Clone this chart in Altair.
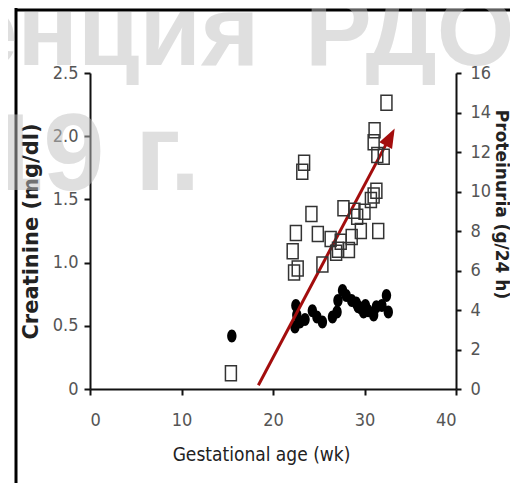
import altair as alt
import pandas as pd

# Creatinine (filled circles, left axis)
week_cr = [15.5, 22.4, 22.5, 22.6, 22.95, 23.5, 24.3, 24.8, 25.4, 26.5, 27.0, 27.1, 27.6,
           28.0, 28.6, 29.1, 29.3, 29.6, 29.9, 30.1, 30.4, 31.0, 31.3, 31.9, 32.4, 32.6]
creat = [0.42, 0.49, 0.66, 0.585, 0.53, 0.55, 0.62, 0.57, 0.53, 0.57, 0.61, 0.70, 0.78,
         0.74, 0.70, 0.68, 0.65, 0.64, 0.61, 0.66, 0.62, 0.585, 0.65, 0.66, 0.74, 0.61]

# Proteinuria (open squares, right axis)
week_pr = [15.4, 22.15, 22.3, 22.7, 22.5, 23.2, 23.4, 24.2, 24.9, 25.4, 26.3, 26.9, 27.1, 27.4,
           27.7, 28.3, 28.6, 28.9, 29.2, 29.6, 30.0, 30.7, 31.0, 31.3, 31.5, 31.0, 31.1, 31.4,
           32.1, 32.4]
prot = [0.8, 6.97, 5.9, 6.1, 7.9, 11.0, 11.46, 8.86, 7.85, 6.3, 7.6, 6.9, 7.05, 7.46,
        9.15, 7.04, 7.7, 9.03, 8.72, 8.0, 8.98, 9.57, 9.8, 10.04, 8.0, 12.5, 13.1, 11.85,
        11.76, 14.5]

# Red trend arrow (in gestational-week / creatinine units)
arrow_week = [18.4, 32.5]
arrow_cr = [0.03, 1.955]
head_week = [33.3]
head_cr = [2.06]

x_ticks = [0, 10, 20, 30, 40]
cr_ticks = [0, 0.5, 1.0, 1.5, 2.0, 2.5]
pr_ticks = [0, 2, 4, 6, 8, 10, 12, 14, 16]

wm_line1a = ["енция"]
wm_line1b = ["РДО"]
wm_line2 = ["19 г."]

NARROW = "DejaVu Sans Condensed, Liberation Sans Narrow, sans-serif"
RED = "#a30d0d"

cr_df = pd.DataFrame({"week": week_cr, "creatinine": creat})
pr_df = pd.DataFrame({"week": week_pr, "proteinuria": prot})
shaft_df = pd.DataFrame({"week": [arrow_week[0]], "week2": [arrow_week[1]],
                         "creatinine": [arrow_cr[0]], "creatinine2": [arrow_cr[1]]})
head_df = pd.DataFrame({"week": head_week, "creatinine": head_cr})

x_axis = alt.Axis(values=x_ticks, title="Gestational age (wk)", labelPadding=16,
                  titleFont=NARROW, titleFontSize=19, titleFontWeight="normal",
                  titleX=171, titleY=71, titleAnchor="start", titleAlign="center",
                  titleBaseline="alphabetic")
x_scale = alt.Scale(domain=[0, 40], nice=False)
cr_scale = alt.Scale(domain=[0, 2.5], nice=False)
pr_scale = alt.Scale(domain=[0, 16], nice=False)

x_enc = alt.X("week:Q", scale=x_scale, axis=x_axis)

cr_axis = alt.Axis(orient="left", values=cr_ticks,
                   labelExpr="datum.value == 0 ? '0' : format(datum.value, '.1f')",
                   labelPadding=6, title="Creatinine (mg/dl)",
                   titleFont="DejaVu Sans", titleFontSize=21, titleFontWeight="bold",
                   titleX=-59, titleY=158, titleAngle=270, titleAlign="center",
                   titleBaseline="middle")
pr_axis = alt.Axis(orient="right", values=pr_ticks, labelPadding=9, tickSize=5,
                   title="Proteinuria (g/24 h)", titleFont="DejaVu Sans",
                   titleFontSize=17, titleFontWeight="bold", titleX=44, titleY=131,
                   titleAngle=90, titleAlign="center", titleBaseline="middle")

ellipse = "M0,-1A0.72,1,0,1,1,0,1A0.72,1,0,1,1,0,-1Z"
rect = "M-0.73,-1L0.73,-1L0.73,1L-0.73,1Z"
tri = "M0,0L0.6,1.6L-0.6,1.6Z"

circles = alt.Chart(cr_df).mark_point(
    filled=True, shape=ellipse, size=169, color="black", opacity=1, strokeWidth=0
).encode(x=x_enc, y=alt.Y("creatinine:Q", scale=cr_scale, axis=cr_axis))

shaft = alt.Chart(shaft_df).mark_rule(color=RED, strokeWidth=3).encode(
    x=x_enc, x2="week2:Q",
    y=alt.Y("creatinine:Q", scale=cr_scale, axis=None), y2="creatinine2:Q")

head = alt.Chart(head_df).mark_point(
    shape=tri, size=576, filled=True, color=RED, opacity=1, angle=28, strokeWidth=0
).encode(x=x_enc, y=alt.Y("creatinine:Q", scale=cr_scale, axis=None))

squares = alt.Chart(pr_df).mark_point(
    filled=False, shape=rect, size=225, color="#333333", opacity=1, strokeWidth=1.5
).encode(x=x_enc, y=alt.Y("proteinuria:Q", scale=pr_scale, axis=pr_axis))

one = pd.DataFrame({"a": [0]})
frame_left = alt.Chart(one).mark_rule(color="black", strokeWidth=3).encode(
    x=alt.value(-74), y=alt.value(-65), y2=alt.value(420))
frame_top = alt.Chart(one).mark_rule(color="black", strokeWidth=3).encode(
    x=alt.value(-74), x2=alt.value(440), y=alt.value(-63))

def wm(text, x, y, size):
    return alt.Chart(pd.DataFrame({"t": text})).mark_text(
        font="Liberation Sans, Arial, sans-serif", fontWeight="bold", fontSize=size,
        color="#c0c0c0", opacity=0.5, align="left", baseline="alphabetic"
    ).encode(x=alt.value(x), y=alt.value(y), text="t:N")

chart = alt.layer(
    frame_left, frame_top, circles, shaft, head, squares,
    wm(wm_line1a, -128, -8, 100), wm(wm_line1b, 215, -8, 100), wm(wm_line2, -108, 117, 110)
).resolve_scale(y="independent").properties(
    width=366, height=316, autosize="none",
    padding={"left": 82, "top": 65, "right": 54, "bottom": 94}
).configure_view(stroke=None).configure_axis(
    domainColor="#111111", domainWidth=2, tickColor="#111111", tickWidth=2, tickSize=6,
    labelFont=NARROW, labelFontSize=18, labelColor="#555555", grid=False,
    titleColor="#222222"
)

chart.save("out.html", embed_options={"renderer": "svg", "actions": False})
